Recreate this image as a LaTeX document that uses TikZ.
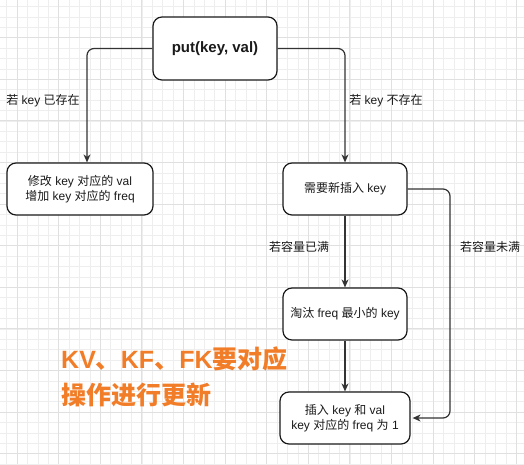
\documentclass[tikz,border=0pt]{standalone}
\usepackage{fontspec}
\setmainfont{Liberation Sans}
\newfontfamily\cjk{Noto Sans CJK SC}
\newcommand{\zh}[1]{{\cjk #1}}
\usetikzlibrary{arrows.meta}
\definecolor{minorg}{HTML}{EEEEEE}
\definecolor{majorg}{HTML}{E0E0E0}
\definecolor{linec}{HTML}{333333}
\definecolor{orangec}{RGB}{242,125,40}
\definecolor{textc}{HTML}{1A1A1A}
\tikzset{
  box/.style={draw=textc, line width=1.2pt, rounded corners=9pt, fill=white, text=textc,
    font=\fontsize{12}{15}\selectfont, align=center, inner sep=0pt},
  conn/.style={draw=linec, line width=1.2pt, rounded corners=7pt,
    -{Stealth[length=8pt,width=7pt,inset=2.5pt]}},
  lbl/.style={text=textc, font=\fontsize{12}{15}\selectfont, inner sep=0pt},
}
\begin{document}
\begin{tikzpicture}[x=1pt,y=-1pt]
\useasboundingbox (0,0) rectangle (524,464);
\fill[white] (0,0) rectangle (524,464);
% grid
\foreach \i in {0,...,49} { \draw[minorg, line width=0.6pt] ({6.6+10.4*\i},0) -- ({6.6+10.4*\i},464); }
\foreach \j in {0,...,44} { \draw[minorg, line width=0.6pt] (0,{6.4+10.4*\j}) -- (524,{6.4+10.4*\j}); }
\foreach \i in {0,...,12} { \draw[majorg, line width=0.7pt] ({17+41.6*\i},0) -- ({17+41.6*\i},464); }
\foreach \j in {0,...,10} { \draw[majorg, line width=0.7pt] (0,{37.6+41.6*\j}) -- (524,{37.6+41.6*\j}); }

% nodes
\node[box, minimum width=124pt, minimum height=63pt, font=\fontsize{15}{18}\selectfont\bfseries] (put) at (215,48.5) {put(key, val)};
\node[box, minimum width=146pt, minimum height=52pt] (exist) at (80,189) {\zh{修改} key \zh{对应的} val\\\zh{增加} key \zh{对应的} freq};
\node[box, minimum width=124pt, minimum height=52pt] (need) at (345,189) {\zh{需要新插入} key};
\node[box, minimum width=124pt, minimum height=52pt] (evict) at (345,314) {\zh{淘汰} freq \zh{最小的} key};
\node[box, minimum width=130pt, minimum height=52pt] (insert) at (345,418) {\zh{插入} key \zh{和} val\\key \zh{对应的} freq \zh{为} 1};

\coordinate (rt) at (450,189);

% connectors
\draw[conn] (put.west) -| ([xshift=7pt]exist.north);
\draw[conn] (put.east) -| (need.north);
\draw[conn] (need.south) -- (evict.north);
\draw[conn] (evict.south) -- (insert.north);
\draw[conn] (need.east) -- (rt) |- ([xshift=2pt]insert.east);

% labels
\node[lbl] (l1) at (43,101) {\zh{若} key \zh{已存在}};
\node[lbl] (l2) at (386,101) {\zh{若} key \zh{不存在}};
\node[lbl] (l3) at (299,247) {\zh{若容量已满}};
\node[lbl] (l4) at (490,247) {\zh{若容量未满}};

\node[anchor=north west, inner sep=0pt, align=left, text=orangec,
  font=\fontsize{25}{36}\selectfont\bfseries] (note) at (61,347) {KV\zh{、}KF\zh{、}FK\zh{要对应}\\\zh{操作进行更新}};
\end{tikzpicture}
\end{document}
